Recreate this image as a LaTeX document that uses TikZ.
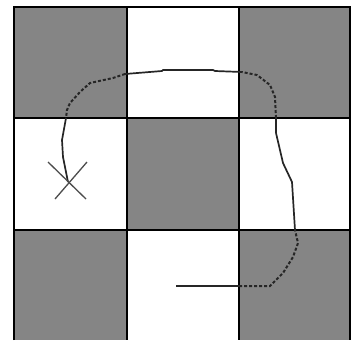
\documentclass[tikz,border=0pt]{standalone}
\begin{document}
\begin{tikzpicture}[x=1pt,y=-1pt,
  cellgray/.style={fill=black!48},
  gridline/.style={line width=2.8pt,black},
  edgeline/.style={line width=1.4pt,black},
  pathsolid/.style={line width=1.7pt,black!85},
  pathdash/.style={line width=2pt,black!85,dash pattern=on 3pt off 2pt},
  crossline/.style={line width=1.3pt,black!70}]
\useasboundingbox (0,0) rectangle (352,340);
\fill[white] (0,0) rectangle (352,340);
% gray cells
\fill[cellgray] (14,7) rectangle (127,118);
\fill[cellgray] (239,7) rectangle (350,118);
\fill[cellgray] (127,118) rectangle (239,230);
\fill[cellgray] (14,230) rectangle (127,340);
\fill[cellgray] (239,230) rectangle (350,340);
% outer edges
\draw[edgeline] (14,340) -- (14,7) -- (350,7) -- (350,340);
% grid
\draw[gridline] (127,7) -- (127,340);
\draw[gridline] (239,7) -- (239,340);
\draw[gridline] (14,118) -- (350,118);
\draw[gridline] (14,230) -- (350,230);
% named points of path
\coordinate (p0) at (176,286);
\coordinate (p1) at (239,286);
\coordinate (p2) at (295,230);
\coordinate (p3) at (276,118);
\coordinate (p4) at (242,72);
\coordinate (p5) at (125,74);
\coordinate (p6) at (66,118);
\coordinate (p7) at (68,182);
% path
\draw[pathsolid] (p0) -- (p1);
\draw[pathdash] (p1) -- (270,286) -- (283,273) -- (293,257) -- (298,243) -- (p2);
\draw[pathsolid] (p2) -- (292,182) -- (283,163) -- (276,133) -- (p3);
\draw[pathdash] (p3) -- (275,97) -- (270,85) -- (257,75) -- (p4);
\draw[pathsolid] (p4) -- (215,71) -- (213,70) -- (163,70) -- (162,71) -- (p5);
\draw[pathdash] (p5) -- (113,78) -- (90,83) -- (80,92) -- (70,103) -- (67,110) -- (p6);
\draw[pathsolid] (p6) -- (62,140) -- (63,157) -- (p7);
% X mark
\coordinate (x1) at (48,162);
\coordinate (x2) at (86,199);
\coordinate (x3) at (87,162);
\coordinate (x4) at (55,199);
\draw[crossline] (x1) -- (x2);
\draw[crossline] (x3) -- (x4);
\end{tikzpicture}
\end{document}
